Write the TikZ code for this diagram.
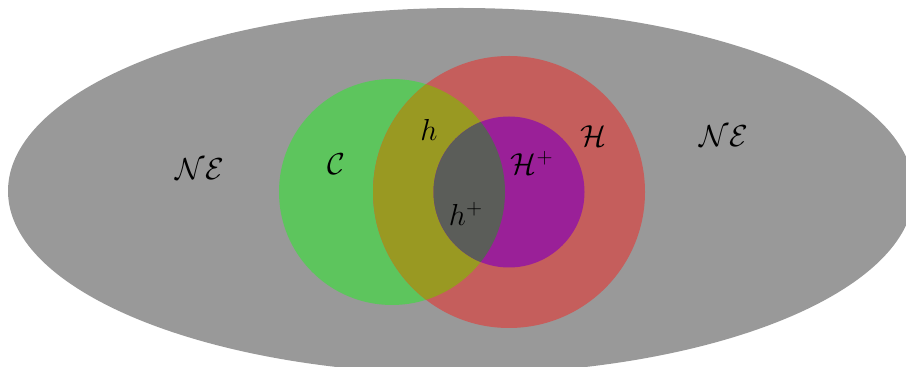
\documentclass[tikz,border=0pt]{standalone}
\definecolor{negray}{RGB}{153,153,153}
\definecolor{cgreen}{RGB}{93,197,93}
\definecolor{hred}{RGB}{197,94,92}
\definecolor{holive}{RGB}{153,153,34}
\definecolor{hpurple}{RGB}{154,32,152}
\definecolor{hdark}{RGB}{91,93,89}
\begin{document}
\begin{tikzpicture}[x=0.02cm, y=-0.02cm, lbl/.style={font=\LARGE, inner sep=0pt}]
\useasboundingbox (0,0) rectangle (906,367);
% Sets
\coordinate (ne) at (461,191);
\coordinate (cc) at (392,192);
\coordinate (hc) at (509,192);
\fill[negray] (ne) ellipse [x radius=453, y radius=183];
\fill[cgreen] (cc) circle [radius=113];
\fill[hred] (hc) circle [radius=136];
\begin{scope}
\clip (cc) circle [radius=113];
\fill[holive] (hc) circle [radius=136];
\end{scope}
\fill[hpurple] (hc) circle [radius=75.5];
\begin{scope}
\clip (cc) circle [radius=113];
\fill[hdark] (hc) circle [radius=75.5];
\end{scope}

% Labels
\node (ne_left) [lbl] at (200,169) {$\mathcal{NE}$};
\node (ne_right) [lbl] at (724,136) {$\mathcal{NE}$};
\node (c_lbl) [lbl] at (336,164) {$\mathcal{C}$};
\node (h_lbl) [lbl] at (429,130) {$h$};
\node (hp_lbl) [lbl] at (532,163) {$\mathcal{H}^+$};
\node (H_lbl) [lbl] at (593,136) {$\mathcal{H}$};
\node (hplus_lbl) [lbl] at (466,214) {$h^+$};
\end{tikzpicture}
\end{document}
